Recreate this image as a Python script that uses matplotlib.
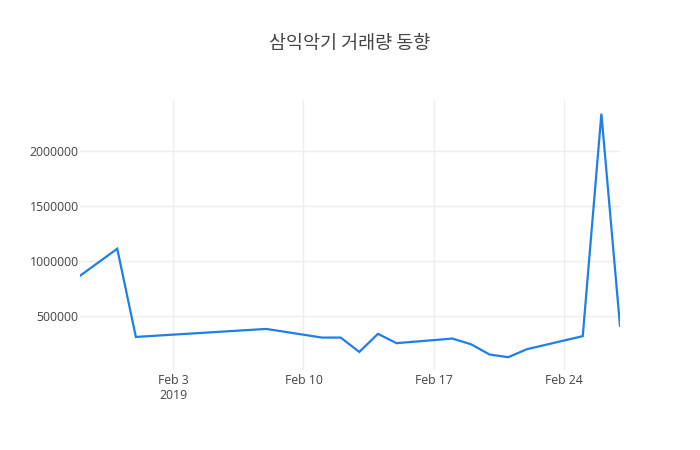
import matplotlib
matplotlib.use("Agg")
import matplotlib.pyplot as plt
import matplotlib.dates as mdates
import numpy as np

dates = ["2019-01-29", "2019-01-31", "2019-02-01", "2019-02-08", "2019-02-11",
         "2019-02-12", "2019-02-13", "2019-02-14", "2019-02-15", "2019-02-18",
         "2019-02-19", "2019-02-20", "2019-02-21", "2019-02-22", "2019-02-25",
         "2019-02-26", "2019-02-27"]
volume = [865000, 1112000, 307000, 380000, 301000,
          301000, 170000, 335000, 250000, 292000,
          240000, 146000, 122000, 195000, 314000,
          2345000, 408000]
ytick_vals = [500000, 1000000, 1500000, 2000000]
xtick_dates = ["2019-02-03", "2019-02-10", "2019-02-17", "2019-02-24"]
xtick_labels = ["Feb 3\n2019", "Feb 10", "Feb 17", "Feb 24"]
title = "삼익악기 거래량 동향"

x = np.array(dates, dtype="datetime64[D]")

fig = plt.figure(figsize=(7, 4.5), dpi=100)
ax = fig.add_axes([80/700, 80/450, 540/700, 270/450])
ax.plot(x, volume, color="#1f7fea", linewidth=1.6, solid_joinstyle="miter")

ax.set_xlim(x[0], x[-1])
ax.set_ylim(5000, 2470000)

tick_x = np.array(xtick_dates, dtype="datetime64[D]")
ax.set_xticks(tick_x)
ax.set_xticklabels(xtick_labels, fontfamily=["Open Sans", "DejaVu Sans"],
                   fontsize=8.8, color="#444444", linespacing=1.2)
ax.set_yticks(ytick_vals)
ax.set_yticklabels([str(v) for v in ytick_vals], fontfamily=["Open Sans", "DejaVu Sans"],
                   fontsize=8.8, color="#444444")

ax.tick_params(axis="both", length=0)
ax.tick_params(axis="x", pad=3)
ax.tick_params(axis="y", pad=1)
ax.grid(True, color="#eeeeee", linewidth=1)
ax.set_axisbelow(True)
for s in ax.spines.values():
    s.set_visible(False)

fig.text(350/700, 1 - 44/450, title, ha="center", va="center",
         fontsize=13.3, color="#444444",
         fontfamily=["Noto Sans CJK KR", "DejaVu Sans"])

fig.savefig("out.png", dpi=100, facecolor="white")
